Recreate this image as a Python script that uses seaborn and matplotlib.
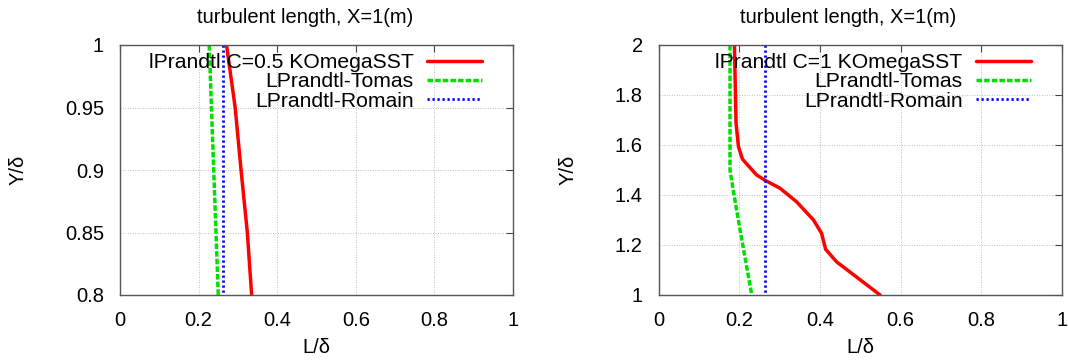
import matplotlib
matplotlib.use("Agg")
import matplotlib.pyplot as plt
import seaborn as sns
import pandas as pd

# ---- data ----
title = "turbulent length, X=1(m)"
left_labels = ["lPrandtl C=0.5 KOmegaSST", "LPrandtl-Tomas", "LPrandtl-Romain"]
right_labels = ["lPrandtl C=1 KOmegaSST", "LPrandtl-Tomas", "LPrandtl-Romain"]

left_red_y = [1.0, 0.95, 0.9, 0.85, 0.8]
left_red_x = [0.271, 0.293, 0.308, 0.324, 0.335]
left_green_y = [1.0, 0.8]
left_green_x = [0.227, 0.250]
left_blue_y = [1.0, 0.8]
left_blue_x = [0.262, 0.262]

right_red_y = [2.0, 1.687, 1.593, 1.543, 1.48, 1.457, 1.427, 1.373, 1.30, 1.247, 1.183, 1.133, 1.0]
right_red_x = [0.188, 0.192, 0.198, 0.208, 0.243, 0.266, 0.301, 0.342, 0.384, 0.404, 0.414, 0.441, 0.549]
right_green_y = [2.0, 1.5, 1.42, 1.26, 1.0]
right_green_x = [0.177, 0.177, 0.185, 0.202, 0.231]
right_blue_y = [2.0, 1.0]
right_blue_x = [0.264, 0.264]

x_ticks = [0, 0.2, 0.4, 0.6, 0.8, 1]
left_yticks = [0.8, 0.85, 0.9, 0.95, 1]
right_yticks = [1, 1.2, 1.4, 1.6, 1.8, 2]

sns.set_style("white")
plt.rcParams['font.family'] = ['Liberation Sans', 'DejaVu Sans']
plt.rcParams['text.color'] = 'black'
plt.rcParams['axes.labelcolor'] = 'black'
plt.rcParams['xtick.color'] = 'black'
plt.rcParams['ytick.color'] = 'black'
FS = 14.5
LFS = 15.2
plt.rcParams['font.size'] = FS

fig = plt.figure(figsize=(10.69, 3.6), dpi=100)
axL = fig.add_axes([120/1069, 1-295/360, 393/1069, 250/360])
axR = fig.add_axes([658.6/1069, 1-295/360, 403.4/1069, 250/360])

styles = [dict(color="#ff0000", lw=2.5, ls="-"),
          dict(color="#00e000", lw=2.5, ls=(0, (1.6, 0.6))),
          dict(color="#0000ff", lw=2.0, ls=(0, (0.8, 1.0)))]

def draw(ax, series, labels, yticks, ylim, bx):
    for (xs, ys), lab, st in zip(series, labels, styles):
        df = pd.DataFrame({"L": xs, "Y": ys})
        sns.lineplot(data=df, x="L", y="Y", sort=False, estimator=None, ax=ax,
                     label=lab, color=st["color"], linewidth=st["lw"], linestyle=st["ls"])
    ax.set_xlim(0, 1)
    ax.set_ylim(*ylim)
    ax.set_xticks(x_ticks)
    ax.set_xticklabels([f"{t:g}" for t in x_ticks])
    ax.set_yticks(yticks)
    ax.set_yticklabels([f"{t:g}" for t in yticks])
    ax.tick_params(direction="in", top=True, right=True, length=5, width=0.8,
                   labelsize=FS, pad=11.5, color="#444444", labelcolor="black")
    ax.grid(True, color="#aaaaaa", ls=(0, (1, 2)), lw=0.6)
    for s in ax.spines.values():
        s.set_color("#555555")
        s.set_linewidth(1.0)
    ax.set_xlabel("L/δ", fontsize=FS, labelpad=6, color="black")
    ax.set_ylabel("Y/δ", fontsize=FS, labelpad=27, color="black")
    ax.set_title(title, fontsize=FS, pad=16, x=0.47, color="black")
    leg = ax.legend(loc="upper right", frameon=False, markerfirst=False, fontsize=LFS,
                    handlelength=2.6, handletextpad=0.62, labelspacing=0.02,
                    borderaxespad=0.0, bbox_to_anchor=(bx, 0.968), borderpad=0.0)
    for t in leg.get_texts():
        t.set_color("black")

draw(axL, [(left_red_x, left_red_y), (left_green_x, left_green_y), (left_blue_x, left_blue_y)],
     left_labels, left_yticks, (0.8, 1.0), 0.92)
draw(axR, [(right_red_x, right_red_y), (right_green_x, right_green_y), (right_blue_x, right_blue_y)],
     right_labels, right_yticks, (1.0, 2.0), 0.922)

fig.savefig("out.png", dpi=100)
